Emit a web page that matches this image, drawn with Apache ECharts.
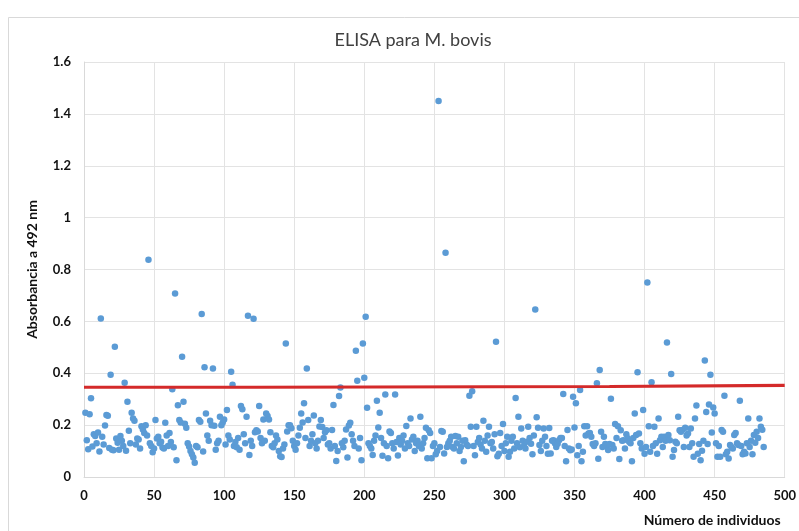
<!DOCTYPE html>
<html><head><meta charset="utf-8">
<script src="https://cdn.jsdelivr.net/npm/echarts@6/dist/echarts.min.js"></script>
<style>html,body{margin:0;padding:0;background:#fff}#c{width:799px;height:531px}</style>
</head><body><div id="c"></div>
<script>
// Absorbance per individual (individual number = position + 1)
const absorbance = [
0.248,0.142,0.107,0.242,0.304,0.118,0.165,0.158,0.13,0.172,
0.098,0.611,0.155,0.125,0.199,0.239,0.236,0.112,0.394,0.105,
0.103,0.502,0.148,0.132,0.105,0.158,0.14,0.12,0.363,0.101,
0.29,0.178,0.13,0.248,0.226,0.217,0.125,0.148,0.145,0.11,
0.196,0.183,0.17,0.2,0.16,0.838,0.13,0.12,0.095,0.11,
0.22,0.148,0.155,0.13,0.136,0.114,0.11,0.209,0.16,0.12,
0.17,0.135,0.338,0.115,0.707,0.065,0.277,0.22,0.21,0.464,
0.29,0.205,0.19,0.13,0.118,0.1,0.088,0.075,0.055,0.12,
0.115,0.22,0.213,0.628,0.098,0.423,0.245,0.16,0.14,0.217,
0.2,0.418,0.198,0.105,0.13,0.14,0.232,0.2,0.21,0.222,
0.125,0.258,0.16,0.145,0.406,0.356,0.12,0.135,0.115,0.15,
0.105,0.274,0.261,0.165,0.13,0.232,0.622,0.085,0.14,0.12,
0.61,0.173,0.18,0.175,0.274,0.15,0.13,0.222,0.14,0.245,
0.235,0.222,0.173,0.12,0.115,0.13,0.16,0.145,0.1,0.08,
0.077,0.11,0.125,0.515,0.175,0.2,0.2,0.188,0.14,0.12,
0.105,0.13,0.16,0.19,0.245,0.21,0.284,0.15,0.418,0.22,
0.12,0.14,0.165,0.237,0.13,0.11,0.14,0.195,0.22,0.193,
0.15,0.173,0.18,0.125,0.13,0.11,0.181,0.278,0.12,0.062,
0.1,0.312,0.345,0.13,0.115,0.14,0.183,0.075,0.199,0.209,
0.165,0.14,0.12,0.487,0.371,0.11,0.15,0.065,0.515,0.383,
0.618,0.267,0.13,0.12,0.11,0.085,0.14,0.16,0.294,0.191,
0.248,0.15,0.082,0.13,0.318,0.12,0.072,0.175,0.17,0.13,
0.11,0.318,0.135,0.083,0.15,0.125,0.14,0.16,0.11,0.197,
0.13,0.12,0.226,0.145,0.155,0.1,0.13,0.14,0.12,0.232,
0.11,0.13,0.15,0.19,0.072,0.18,0.17,0.072,0.12,0.13,
0.088,0.1,1.45,0.116,0.177,0.174,0.091,0.865,0.116,0.13,
0.14,0.155,0.116,0.11,0.158,0.13,0.155,0.1,0.116,0.14,
0.061,0.142,0.125,0.12,0.313,0.194,0.331,0.12,0.084,0.194,
0.135,0.15,0.125,0.11,0.217,0.14,0.097,0.16,0.194,0.13,
0.135,0.11,0.165,0.521,0.08,0.09,0.17,0.12,0.204,0.1,
0.13,0.155,0.078,0.097,0.14,0.155,0.11,0.305,0.13,0.232,
0.115,0.187,0.14,0.12,0.11,0.136,0.194,0.15,0.128,0.088,
0.16,0.646,0.23,0.19,0.123,0.1,0.14,0.187,0.155,0.12,
0.09,0.189,0.091,0.14,0.142,0.13,0.116,0.128,0.142,0.15,
0.15,0.32,0.12,0.061,0.181,0.11,0.103,0.106,0.309,0.191,
0.284,0.084,0.12,0.335,0.061,0.097,0.196,0.16,0.196,0.168,
0.17,0.155,0.127,0.12,0.13,0.361,0.07,0.413,0.174,0.116,
0.155,0.127,0.12,0.104,0.127,0.302,0.123,0.11,0.204,0.15,
0.196,0.069,0.18,0.14,0.142,0.11,0.165,0.149,0.136,0.13,
0.061,0.15,0.245,0.162,0.404,0.168,0.13,0.11,0.258,0.09,
0.116,0.75,0.196,0.097,0.365,0.12,0.194,0.13,0.09,0.226,
0.142,0.155,0.116,0.155,0.14,0.519,0.162,0.142,0.397,0.078,
0.104,0.136,0.13,0.232,0.18,0.174,0.181,0.116,0.19,0.16,
0.168,0.116,0.187,0.13,0.078,0.226,0.276,0.09,0.127,0.065,
0.101,0.14,0.449,0.251,0.127,0.28,0.394,0.172,0.268,0.245,
0.13,0.078,0.12,0.078,0.181,0.174,0.313,0.088,0.097,0.071,
0.123,0.116,0.11,0.162,0.17,0.13,0.123,0.294,0.12,0.088,
0.097,0.091,0.13,0.226,0.116,0.14,0.088,0.162,0.132,0.174,
0.15,0.226,0.194,0.182,0.116
];
// Cut-off line (three plates)
const cutoffX = [0, 123, 123, 375, 375, 500];
const cutoffY = [0.346, 0.346, 0.349, 0.349, 0.353, 0.353];

const titleText = 'ELISA para M. bovis';
const xName = 'Número de individuos';
const yName = 'Absorbancia a 492 nm';

const points = absorbance.map((v, i) => [i + 1, v]);
const cutoff = cutoffX.map((x, i) => [x, cutoffY[i]]);

const chart = echarts.init(document.getElementById('c'), null, {renderer: 'canvas'});
const labelFont = {fontFamily: 'Lato, "Open Sans", sans-serif', fontWeight: 'bold', fontSize: 13, color: '#111'};
chart.setOption({
  animation: false,
  backgroundColor: '#fff',
  graphic: [{
    type: 'rect', silent: true, z: -10,
    shape: {x: 8.5, y: 17.5, width: 820, height: 560},
    style: {fill: 'none', stroke: '#d9d9d9', lineWidth: 1}
  }],
  title: {
    text: titleText, left: 408, top: 26, textAlign: 'center',
    textStyle: {fontFamily: 'Lato, "Open Sans", sans-serif', fontWeight: 'normal', fontSize: 18, color: '#404040'}
  },
  grid: {left: 84, right: 10, top: 62, bottom: 54, containLabel: false},
  xAxis: {
    type: 'value', min: 0, max: 500, interval: 50,
    name: xName, nameLocation: 'end',
    nameGap: 0,
    nameTextStyle: Object.assign({}, labelFont, {fontSize: 14, align: 'right', verticalAlign: 'top', padding: [36, 4, 0, 0]}),
    axisLine: {show: true, lineStyle: {color: '#d9d9d9'}},
    axisTick: {show: false},
    splitLine: {show: true, lineStyle: {color: '#e3e3e3'}},
    axisLabel: Object.assign({}, labelFont, {margin: 12})
  },
  yAxis: {
    type: 'value', min: 0, max: 1.6, interval: 0.2,
    name: yName, nameLocation: 'middle', nameRotate: 90, nameGap: 45,
    nameTextStyle: Object.assign({}, labelFont, {fontSize: 14}),
    axisLine: {show: true, lineStyle: {color: '#d9d9d9'}},
    axisTick: {show: false},
    splitLine: {show: true, lineStyle: {color: '#e3e3e3'}},
    axisLabel: Object.assign({}, labelFont, {margin: 13})
  },
  series: [{
    type: 'scatter', data: points, symbol: 'circle', symbolSize: 6.5,
    itemStyle: {color: '#5b9bd5', opacity: 1}, z: 2
  }, {
    type: 'line', data: cutoff, showSymbol: false, symbol: 'none',
    lineStyle: {color: '#d42a2a', width: 3.2}, z: 3
  }]
});
</script>
</body></html>
